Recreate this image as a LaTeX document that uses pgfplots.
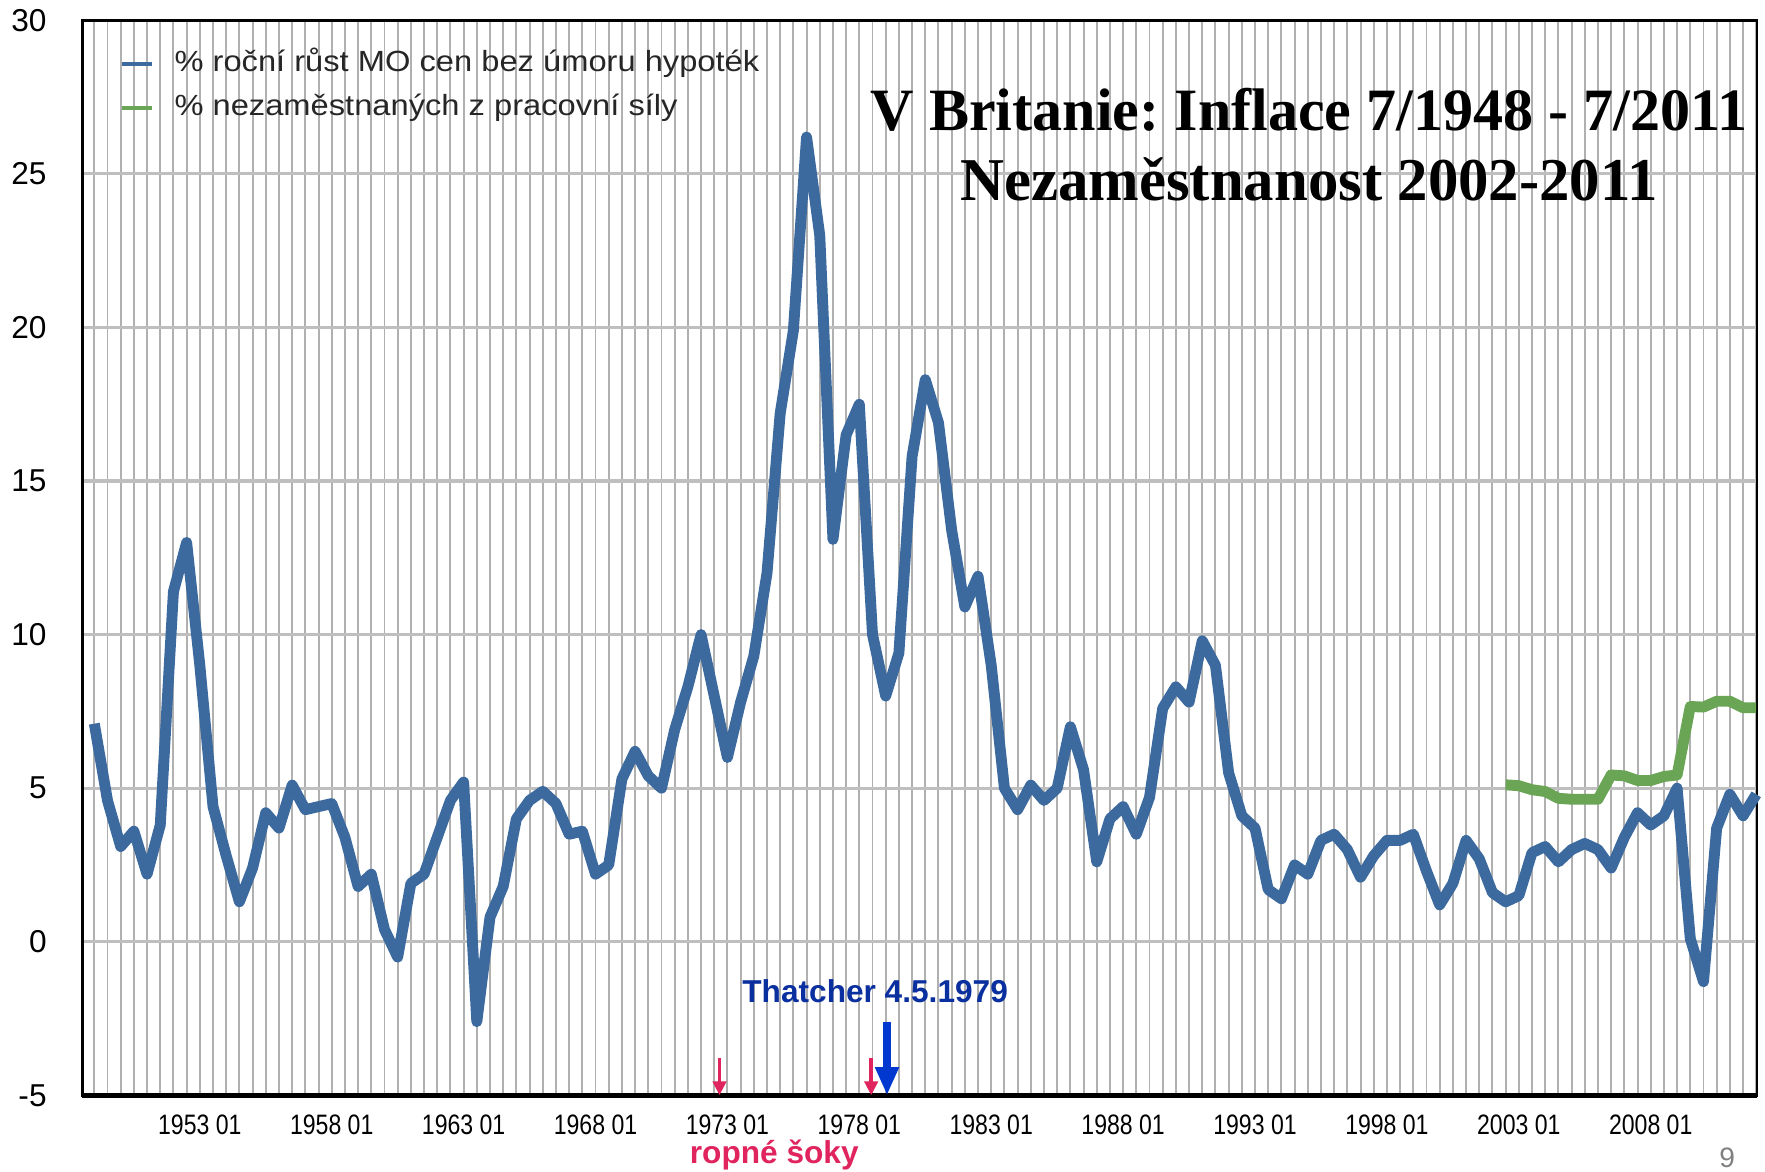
\documentclass[border=0pt]{standalone}
\usepackage{fontspec}
\setmainfont{Liberation Sans}
\newfontfamily\titlefont{Liberation Serif}
\newfontfamily\narrowsans{Liberation Sans}[FakeStretch=0.82]
\newfontfamily\widesans{Liberation Sans}[FakeStretch=1.12]
\usepackage{pgfplots}
\pgfplotsset{compat=1.18}
\usetikzlibrary{arrows.meta}
\frenchspacing

\definecolor{inflblue}{HTML}{3C6A9E}
\definecolor{unempgreen}{HTML}{6AA556}
\definecolor{thblue}{HTML}{0A2F9E}
\definecolor{arrowblue}{HTML}{0038D0}
\definecolor{shockpink}{HTML}{E0245E}

\begin{document}
\begin{tikzpicture}
\useasboundingbox (-0.823cm,-0.757cm) rectangle (16.827cm,10.953cm);
\begin{axis}[
  at={(0,0)}, anchor=south west,
  scale only axis, width=16.747cm, height=10.75cm,
  xmin=-0.91, xmax=126.06, ymin=-5, ymax=30,
  xtick={8,18,...,118},
  xticklabels={1953 01,1958 01,1963 01,1968 01,1973 01,1978 01,1983 01,1988 01,1993 01,1998 01,2003 01,2008 01},
  minor xtick={0,...,126},
  ytick={-5,0,...,30},
  major tick length=0pt, minor tick length=0pt,
  xminorgrids, ymajorgrids,
  minor x grid style={color=gray!62, line width=0.55pt},
  major y grid style={color=gray!50, line width=0.9pt},
  axis line style={black, line width=0.8pt},
  /pgf/number format/assume math mode=true,
  yticklabel style={font=\fontsize{9}{10}\selectfont, anchor=east, inner sep=0pt, xshift=-3.5mm},
  xticklabel style={font=\fontsize{8}{9}\narrowsans, anchor=north, inner sep=0pt, yshift=-1.9mm},
  clip=false,
  legend cell align=left,
  legend style={draw=none, fill=none, at={(axis description cs:0.0225,0.9725)}, anchor=north west,
    inner sep=0pt, outer sep=0pt, row sep=1.6mm,
    font=\fontsize{8.3}{9}\widesans, text=black!85,
    nodes={inner sep=0pt, text height=2.2mm, text depth=0.6mm},
    /tikz/every odd column/.append style={column sep=2.0mm}},
  legend image code/.code={\draw[#1, line width=1.3pt, line cap=butt] (0mm,0mm) -- (3mm,0mm);},
]
\addplot[inflblue, line width=3.1pt, line join=round] coordinates {
(0,7.1) (1,4.6) (2,3.1) (3,3.6) (4,2.2) (5,3.8) (6,11.4) (7,13.0) (8,9.0) (9,4.4)
(10,2.8) (11,1.3) (12,2.4) (13,4.2) (14,3.7) (15,5.1) (16,4.3) (17,4.4) (18,4.5) (19,3.4)
(20,1.8) (21,2.2) (22,0.4) (23,-0.5) (24,1.9) (25,2.2) (26,3.4) (27,4.6) (28,5.2) (29,-2.6)
(30,0.8) (31,1.8) (32,4.0) (33,4.6) (34,4.9) (35,4.5) (36,3.5) (37,3.6) (38,2.2) (39,2.5)
(40,5.3) (41,6.2) (42,5.4) (43,5.0) (44,6.9) (45,8.3) (46,10.0) (47,8.0) (48,6.0) (49,7.8)
(50,9.3) (51,12.0) (52,17.2) (53,19.9) (54,26.2) (55,23.0) (56,13.1) (57,16.5) (58,17.5) (59,10.0)
(60,8.0) (61,9.4) (62,15.8) (63,18.3) (64,16.9) (65,13.4) (66,10.9) (67,11.9) (68,9.0) (69,5.0)
(70,4.3) (71,5.1) (72,4.6) (73,5.0) (74,7.0) (75,5.6) (76,2.6) (77,4.0) (78,4.4) (79,3.5)
(80,4.7) (81,7.6) (82,8.3) (83,7.8) (84,9.8) (85,9.0) (86,5.5) (87,4.1) (88,3.7) (89,1.7)
(90,1.4) (91,2.5) (92,2.2) (93,3.3) (94,3.5) (95,3.0) (96,2.1) (97,2.8) (98,3.3) (99,3.3)
(100,3.5) (101,2.3) (102,1.2) (103,1.9) (104,3.3) (105,2.7) (106,1.6) (107,1.3) (108,1.5) (109,2.9)
(110,3.1) (111,2.6) (112,3.0) (113,3.2) (114,3.0) (115,2.4) (116,3.4) (117,4.2) (118,3.8) (119,4.1)
(120,5.0) (121,0.1) (122,-1.3) (123,3.7) (124,4.8) (125,4.1) (126,4.8)
};
\addlegendentry{\% roční růst MO cen bez úmoru hypoték}
\addplot[unempgreen, line width=3.1pt, line join=round] coordinates {
(107,5.11) (108,5.08) (109,4.95) (110,4.89) (111,4.67) (112,4.64) (113,4.64) (114,4.64)
(115,5.43) (116,5.40) (117,5.25) (118,5.25) (119,5.38) (120,5.43)
(121,7.66) (122,7.64) (123,7.83) (124,7.83) (125,7.62) (126,7.62)
};
\addlegendentry{\% nezaměstnaných z pracovní síly}

\draw[black, line width=1.5pt] (rel axis cs:0,0) -- (rel axis cs:1,0);

\node[font=\titlefont\bfseries\fontsize{17.1}{20}\selectfont, anchor=base] at (axis description cs:0.7325,0.8974) {V Britanie: Inflace 7/1948 - 7/2011};
\node[font=\titlefont\bfseries\fontsize{17.3}{20}\selectfont, anchor=base] at (axis description cs:0.7325,0.8325) {Nezaměstnanost 2002-2011};

\node[font=\bfseries\fontsize{9}{10}\selectfont, text=thblue] at (axis cs:59.2,-1.6) {Thatcher 4.5.1979};
\draw[arrowblue, line width=2.3pt, -{Triangle[width=6.3pt,length=8pt]}] (axis cs:60.1,-2.6) -- (axis cs:60.1,-5);
\draw[shockpink, line width=1pt, -{Triangle[width=3.8pt,length=4pt]}] (axis cs:47.4,-3.78) -- (axis cs:47.4,-5);
\draw[shockpink, line width=1pt, -{Triangle[width=3.8pt,length=4pt]}] (axis cs:58.9,-3.78) -- (axis cs:58.9,-5);
\node[font=\bfseries\fontsize{9}{10}\selectfont, text=shockpink] at (axis cs:51.55,-6.94) {ropné šoky};
\node[text=gray, font=\fontsize{8}{9}\selectfont, anchor=south] at (axis cs:123.8,-7.75) {9};
\end{axis}
\end{tikzpicture}
\end{document}
